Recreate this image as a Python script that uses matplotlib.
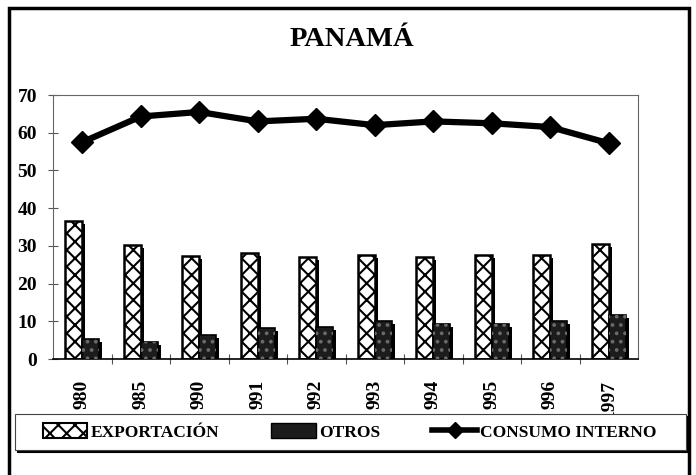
import matplotlib
matplotlib.use('Agg')
import matplotlib.pyplot as plt
import numpy as np
from matplotlib.patches import Rectangle, Patch
from matplotlib.lines import Line2D

#%% Data

years = ['980', '985', '990', '991', '992', '993', '994', '995', '996', '1997']
exportacion = [36.5, 30.2, 27.3, 28.0, 27.0, 27.5, 27.0, 27.6, 27.6, 30.5]
otros = [5.2, 4.6, 6.3, 8.2, 8.4, 10.0, 9.4, 9.2, 10.2, 11.7]
consumo = [57.5, 64.3, 65.5, 63.0, 63.7, 62.0, 63.0, 62.5, 61.5, 57.2]

#%% Style

plt.rcParams['font.family'] = ['Liberation Serif', 'DejaVu Serif']
plt.rcParams['font.weight'] = 'bold'
plt.rcParams['hatch.linewidth'] = 1.5

fig = plt.figure(figsize=(6.96, 4.75), dpi=100)
ax = fig.add_axes([53/696, 1-359/475, 585/696, 264/475])

x = np.arange(len(years))
w = 0.29
px = 1/58.5          # one pixel in category units
py = 1/3.77          # one pixel in data units

# shadows (3d look)
ax.bar(x - w/2 + 3*px, np.array(exportacion) - 3*py, w, color='black', zorder=1)
ax.bar(x + w/2 + 3*px, np.array(otros) - 3*py, w, color='black', zorder=1)

ax.bar(x - w/2, exportacion, w, facecolor='white', edgecolor='black',
       hatch='xx', linewidth=1.8, zorder=2)
ax.bar(x + w/2, otros, w, facecolor='#1c1c1c', edgecolor='black',
       linewidth=1.2, zorder=2)
ax.bar(x + w/2, otros, w, facecolor='none', edgecolor='#6a6a6a',
       hatch='..', linewidth=0, zorder=3)

ax.plot(x, consumo, color='black', lw=4.5, marker='D', markersize=11, zorder=4)

ax.set_xlim(-0.5, len(years) - 0.5)
ax.set_ylim(0, 70)
ax.set_yticks(range(0, 71, 10))
ax.set_yticklabels([str(v) for v in range(0, 71, 10)], fontsize=14, fontweight='bold')
ax.set_xticks(x)
ax.set_xticklabels(years, rotation=90, fontsize=14, fontweight='bold', va='top')
ax.set_xticks(np.arange(0.5, len(years) - 1, 1), minor=True)
ax.tick_params(axis='x', which='major', length=0, pad=15)
ax.tick_params(axis='x', which='minor', direction='inout', length=7, width=0.8, color='#555555')
ax.tick_params(axis='y', direction='inout', length=7, width=0.8, color='#555555', pad=8)

for s in ['top', 'right', 'left']:
    ax.spines[s].set_color('#666666')
    ax.spines[s].set_linewidth(0.8)
ax.spines['bottom'].set_color('black')
ax.spines['bottom'].set_linewidth(1.2)

#%% Title

fig.text(352/696, 1-40/475, 'PANAMÁ', ha='center', va='center',
         fontsize=20.5, fontweight='bold')

#%% Legend (frame drawn separately)

fig.patches.append(Rectangle((17/696, 1-452/475), 671/696, 36/475,
                             transform=fig.transFigure, facecolor='black',
                             edgecolor='black', linewidth=0.8, zorder=1))
fig.patches.append(Rectangle((15/696, 1-450/475), 671/696, 36/475,
                             transform=fig.transFigure, facecolor='white',
                             edgecolor='#444444', linewidth=0.8, zorder=2))

handles = [Patch(facecolor='white', edgecolor='black', hatch='xx', linewidth=1.5),
           Patch(facecolor='#1c1c1c', edgecolor='black'),
           Line2D([0], [0], color='black', lw=4, marker='D', markersize=8)]
labels = ['EXPORTACIÓN', 'OTROS', 'CONSUMO INTERNO']
leg = fig.legend(handles, labels, ncol=3, loc='center left',
                 bbox_to_anchor=(43/696, 1-432/475),
                 fontsize=12.5, handlelength=2.55, handleheight=0.9,
                 handletextpad=0.2, columnspacing=3.0, frameon=False,
                 borderpad=0, borderaxespad=0)
leg.set_zorder(5)

#%% Outer frame

fig.patches.append(Rectangle((9/696, -0.05), 680/696, 1.05 - 8/475,
                             transform=fig.transFigure, fill=False,
                             edgecolor='black', linewidth=2.5))

plt.savefig('out.png', dpi=100)
